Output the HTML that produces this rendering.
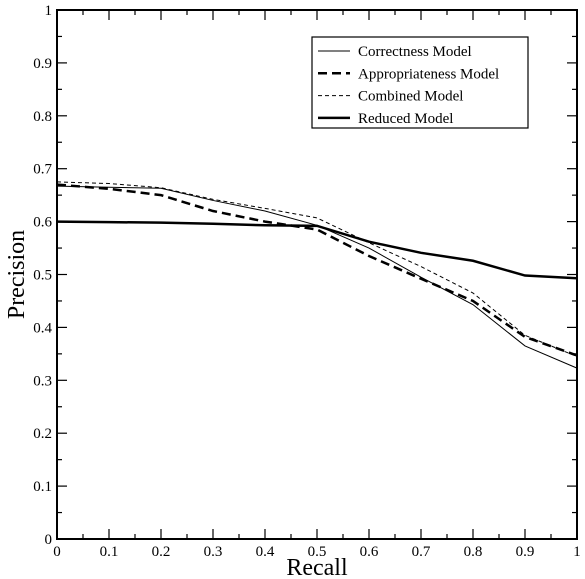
<!DOCTYPE html>
<html><head><meta charset="utf-8"><style>
body{margin:0;background:#fff}
svg{display:block;font-family:"Liberation Serif",serif}
</style></head><body>
<svg id="chart" width="585" height="579" xmlns="http://www.w3.org/2000/svg"></svg>
<script>
const recall=[0,0.1,0.2,0.3,0.4,0.5,0.6,0.7,0.8,0.9,1];
const correctness=[0.667,0.665,0.663,0.640,0.620,0.593,0.550,0.495,0.443,0.365,0.323];
const appropriateness=[0.670,0.662,0.650,0.620,0.600,0.585,0.535,0.492,0.450,0.382,0.347];
const combined=[0.675,0.672,0.664,0.642,0.625,0.607,0.560,0.515,0.465,0.385,0.345];
const reduced=[0.600,0.599,0.598,0.596,0.593,0.592,0.562,0.541,0.526,0.498,0.493];
const xTicks=["0","0.1","0.2","0.3","0.4","0.5","0.6","0.7","0.8","0.9","1"];
const yTicks=["0","0.1","0.2","0.3","0.4","0.5","0.6","0.7","0.8","0.9","1"];
const seriesNames=["Correctness Model","Appropriateness Model","Combined Model","Reduced Model"];

const svg=document.getElementById('chart');
const NS="http://www.w3.org/2000/svg";
const X0=57,X1=577,Y0=539,Y1=10;
const sx=v=>X0+(X1-X0)*v, sy=v=>Y0-(Y0-Y1)*v;
function mk(t,a){const e=document.createElementNS(NS,t);for(const k in a)e.setAttribute(k,a[k]);svg.appendChild(e);return e;}

// ticks
for(let i=0;i<=20;i++){
  const v=i/20,len=i%2?5:10;
  let t=mk('line',{x1:sx(v),x2:sx(v),y1:Y0,y2:Y0-len,stroke:'#000','stroke-width':1.2});
  
  t=mk('line',{x1:sx(v),x2:sx(v),y1:Y1,y2:Y1+len,stroke:'#000','stroke-width':1.2});
  
  t=mk('line',{x1:X0,x2:X0+len,y1:sy(v),y2:sy(v),stroke:'#000','stroke-width':1.2});
  
  t=mk('line',{x1:X1,x2:X1-len,y1:sy(v),y2:sy(v),stroke:'#000','stroke-width':1.2});
  
}
xTicks.forEach((s,i)=>{
  const t=mk('text',{x:sx(i/10),y:Y0+17,'font-size':15,'text-anchor':'middle'});t.textContent=s;
  
});
yTicks.forEach((s,i)=>{
  const t=mk('text',{x:X0-5,y:sy(i/10)+5,'font-size':15,'text-anchor':'end'});t.textContent=s;
  
});
let f=mk('rect',{x:X0,y:Y1,width:X1-X0,height:Y0-Y1,fill:'none',stroke:'#000','stroke-width':2});

let xt=mk('text',{x:(X0+X1)/2,y:575,'font-size':24,'text-anchor':'middle'});xt.textContent='Recall';

let yt=mk('text',{x:0,y:0,'font-size':24,'text-anchor':'middle',transform:`translate(24,${(Y0+Y1)/2}) rotate(-90)`});yt.textContent='Precision';


const styles=[{w:1,d:''},{w:2.5,d:'9,5'},{w:1,d:'4,3'},{w:2.5,d:''}];
[correctness,appropriateness,combined,reduced].forEach((ser,k)=>{
  const p=mk('polyline',{points:ser.map((v,i)=>sx(recall[i])+','+sy(v)).join(' '),fill:'none',stroke:'#000','stroke-width':styles[k].w,'stroke-dasharray':styles[k].d});
  
  
});
// legend
let lb=mk('rect',{x:312,y:37,width:216,height:91,fill:'#fff',stroke:'#000','stroke-width':1.2});

seriesNames.forEach((n,k)=>{
  const y=51+k*22.3;
  const l=mk('line',{x1:318,x2:350,y1:y,y2:y,stroke:'#000','stroke-width':styles[k].w,'stroke-dasharray':styles[k].d});
  
  const t=mk('text',{x:358,y:y+5,'font-size':15});t.textContent=n;
  
});
</script>
</body></html>
